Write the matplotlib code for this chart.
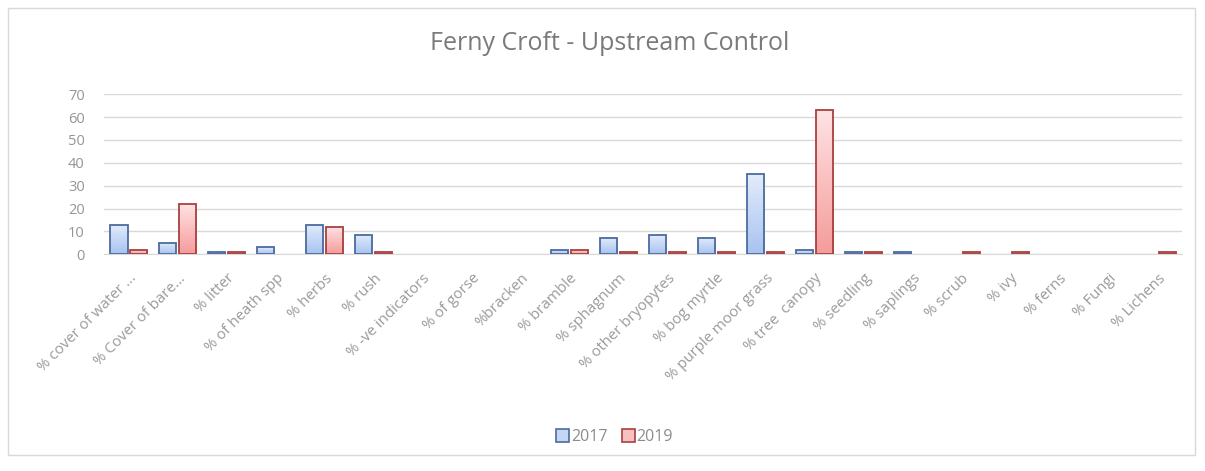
import numpy as np
import matplotlib.pyplot as plt
from matplotlib.colors import LinearSegmentedColormap
from matplotlib.patches import Rectangle

plt.rcParams['font.family'] = ['Open Sans', 'DejaVu Sans']

categories = ["% cover of water ...", "% Cover of bare...", "% litter", "% of heath spp",
              "% herbs", "% rush", "% -ve indicators", "% of gorse", "%bracken",
              "% bramble", "% sphagnum", "% other bryopytes", "% bog myrtle",
              "% purple moor grass", "% tree  canopy", "% seedling", "% saplings",
              "% scrub", "% ivy", "% ferns", "% Fungi", "% Lichens"]
vals_2017 = [13, 5, 1, 3, 13, 8.5, 0, 0, 0, 2, 7, 8.5, 7, 35, 2, 1, 1, 0, 0, 0, 0, 0]
vals_2019 = [2, 22, 1, 0, 12, 1, 0, 0, 0, 2, 1, 1, 1, 1, 63, 1, 0, 1, 1, 0, 0, 1]

grey = '#8c8c8c'

fig = plt.figure(figsize=(12.05, 4.71), dpi=100)
ax = fig.add_axes([0.0865, 0.46, 0.8945, 0.34])

# light outer frame around the chart
fig.patches.append(Rectangle((0.007, 0.034), 0.985, 0.948, transform=fig.transFigure,
                             fill=False, edgecolor='#d9d9d9', linewidth=1.0))

x = np.arange(len(categories))
w = 0.35
off = 0.2

blue_cmap = LinearSegmentedColormap.from_list('b', ['#e3ecfb', '#a8c3f0'])
red_cmap = LinearSegmentedColormap.from_list('r', ['#ffe3e3', '#f59c9c'])
grad = np.linspace(0, 1, 64).reshape(-1, 1)


def draw_bars(xpos, vals, edge, cmap, label):
    bars = ax.bar(xpos, vals, width=w, facecolor='none', edgecolor=edge,
                  linewidth=1.3, label=label, zorder=3)
    for b in bars:
        h = b.get_height()
        if h <= 0:
            b.set_visible(False)
            continue
        x0 = b.get_x()
        im = ax.imshow(grad, cmap=cmap, aspect='auto', origin='upper',
                       extent=[x0, x0 + b.get_width(), 0, h], zorder=2)
        im.set_clip_path(b)
    return bars


b17 = draw_bars(x - off, vals_2017, '#4b6b9e', blue_cmap, '2017')
b19 = draw_bars(x + off, vals_2019, '#a84040', red_cmap, '2019')

ax.set_xlim(-0.5, len(categories) - 0.5)
ax.set_ylim(0, 70)
ax.set_yticks(range(0, 71, 10))
ax.yaxis.grid(True, color='#d9d9d9', linewidth=1.0, zorder=0)
ax.set_axisbelow(True)
for s in ['top', 'right', 'left']:
    ax.spines[s].set_visible(False)
ax.spines['bottom'].set_color('#d9d9d9')
ax.tick_params(axis='both', length=0, colors='#959595', labelsize=10.5)
ax.tick_params(axis='y', pad=14)
ax.tick_params(axis='x', pad=12, colors='#9a9a9a')
ax.set_xticks(x)
ax.set_xticklabels(categories, rotation=45, ha='right', rotation_mode='anchor', fontsize=10.8)

fig.text(0.506, 0.908, 'Ferny Croft - Upstream Control', ha='center', va='center',
         fontsize=18, color='#7a7a7a')

h17 = Rectangle((0, 0), 1, 1, facecolor='#c4d6f5', edgecolor='#4b6b9e', linewidth=1.2)
h19 = Rectangle((0, 0), 1, 1, facecolor='#f9c0c0', edgecolor='#a84040', linewidth=1.2)
fig.legend([h17, h19], ['2017', '2019'], loc='center', bbox_to_anchor=(0.51, 0.072),
           ncol=2, frameon=False, fontsize=11.5, labelcolor=grey, handlelength=0.8,
           handleheight=0.8, handletextpad=0.1, columnspacing=0.9)

fig.savefig('out.png', dpi=100)
